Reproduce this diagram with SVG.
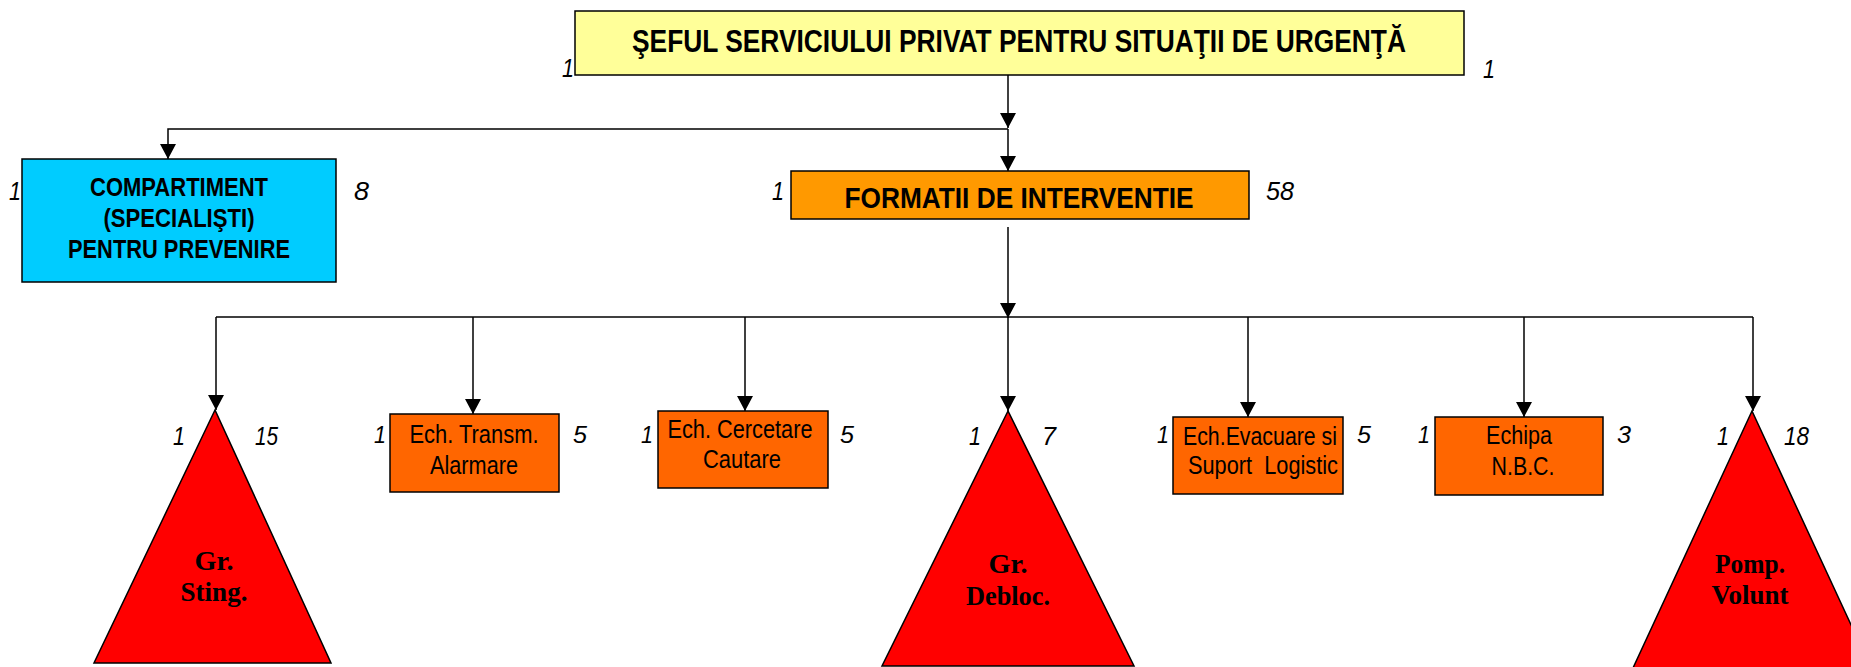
<svg xmlns="http://www.w3.org/2000/svg" width="1851" height="667" viewBox="0 0 1851 667">
<style>
.box{stroke:#000;stroke-width:1.5}
.tri{fill:#FF0000;stroke:#000;stroke-width:1.5}
.big{font-family:"Liberation Sans",Arial,sans-serif;font-weight:bold;fill:#000;text-anchor:middle}
.sm{font-family:"Liberation Sans",Arial,sans-serif;font-size:25px;fill:#000;text-anchor:middle}
.tt{font-family:"Liberation Serif","Times New Roman",serif;font-weight:bold;font-size:28px;fill:#000;text-anchor:middle}
.lb{font-family:"Liberation Sans",Arial,sans-serif;font-style:italic;font-size:25px;fill:#000}
.ls{font-family:"Liberation Sans",Arial,sans-serif;font-style:italic;font-size:23px;fill:#000}
.ln{fill:none;stroke:#000;stroke-width:1.5}
</style>
<defs>
<marker id="ah" markerUnits="userSpaceOnUse" viewBox="0 0 15 16" refX="15" refY="8" markerWidth="15" markerHeight="16" orient="auto">
<path d="M0,0 L15,8 L0,16 z" fill="#000"/>
</marker>
</defs>
<rect width="1851" height="667" fill="#fff"/>
<g id="connectors">
<line class="ln" x1="1008" y1="75" x2="1008" y2="128" marker-end="url(#ah)"/>
<line class="ln" x1="1008" y1="129" x2="1008" y2="171" marker-end="url(#ah)"/>
<polyline class="ln" points="1008,129 168,129 168,159" marker-end="url(#ah)"/>
<line class="ln" x1="1008" y1="227" x2="1008" y2="318" marker-end="url(#ah)"/>
<line class="ln" x1="216" y1="317" x2="1753" y2="317"/>
<line class="ln" x1="216" y1="317" x2="216" y2="410" marker-end="url(#ah)"/>
<line class="ln" x1="473" y1="317" x2="473" y2="414" marker-end="url(#ah)"/>
<line class="ln" x1="745" y1="317" x2="745" y2="411" marker-end="url(#ah)"/>
<line class="ln" x1="1008" y1="317" x2="1008" y2="411" marker-end="url(#ah)"/>
<line class="ln" x1="1248" y1="317" x2="1248" y2="417" marker-end="url(#ah)"/>
<line class="ln" x1="1524" y1="317" x2="1524" y2="417" marker-end="url(#ah)"/>
<line class="ln" x1="1753" y1="317" x2="1753" y2="411" marker-end="url(#ah)"/>
</g>
<g id="sef">
<text class="lb" x="562" y="77" textLength="12" lengthAdjust="spacingAndGlyphs">1</text>
<rect class="box" x="575" y="11" width="889" height="64" fill="#FFFF99"/>
<text class="big" x="1019" y="52" font-size="31" textLength="774" lengthAdjust="spacingAndGlyphs">ŞEFUL SERVICIULUI PRIVAT PENTRU SITUAŢII DE URGENŢĂ</text>
<text class="lb" x="1483" y="78" textLength="12" lengthAdjust="spacingAndGlyphs">1</text>
</g>
<g id="compartiment">
<text class="lb" x="9" y="200" textLength="12" lengthAdjust="spacingAndGlyphs">1</text>
<rect class="box" x="22" y="159" width="314" height="123" fill="#00CCFF"/>
<text class="big" x="179" y="196" font-size="25" textLength="178" lengthAdjust="spacingAndGlyphs">COMPARTIMENT</text>
<text class="big" x="179" y="227" font-size="25" textLength="151" lengthAdjust="spacingAndGlyphs">(SPECIALIŞTI)</text>
<text class="big" x="179" y="258" font-size="25" textLength="222" lengthAdjust="spacingAndGlyphs">PENTRU PREVENIRE</text>
<text class="lb" x="354" y="200" textLength="15" lengthAdjust="spacingAndGlyphs">8</text>
</g>
<g id="formatii">
<text class="lb" x="772" y="200" textLength="12" lengthAdjust="spacingAndGlyphs">1</text>
<rect class="box" x="791" y="171" width="458" height="48" fill="#FF9900"/>
<text class="big" x="1019" y="208" font-size="29" textLength="349" lengthAdjust="spacingAndGlyphs">FORMATII DE INTERVENTIE</text>
<text class="lb" x="1266" y="200" textLength="28" lengthAdjust="spacingAndGlyphs">58</text>
</g>
<g id="gr-sting">
<polygon class="tri" points="215,410 94,663 331,663"/>
<text class="tt" x="214" y="570" textLength="39" lengthAdjust="spacingAndGlyphs">Gr.</text>
<text class="tt" x="214" y="601" textLength="67" lengthAdjust="spacingAndGlyphs">Sting.</text>
<text class="lb" x="173" y="445" textLength="12" lengthAdjust="spacingAndGlyphs">1</text>
<text class="lb" x="255" y="445" textLength="23" lengthAdjust="spacingAndGlyphs">15</text>
</g>
<g id="ech-transm">
<text class="ls" x="374" y="443" textLength="12" lengthAdjust="spacingAndGlyphs">1</text>
<rect class="box" x="390" y="414" width="169" height="78" fill="#FF6600"/>
<text class="sm" x="474" y="443" textLength="129" lengthAdjust="spacingAndGlyphs">Ech. Transm.</text>
<text class="sm" x="474" y="474" textLength="88" lengthAdjust="spacingAndGlyphs">Alarmare</text>
<text class="ls" x="573" y="443" textLength="14" lengthAdjust="spacingAndGlyphs">5</text>
</g>
<g id="ech-cercetare">
<text class="ls" x="641" y="443" textLength="12" lengthAdjust="spacingAndGlyphs">1</text>
<rect class="box" x="658" y="411" width="170" height="77" fill="#FF6600"/>
<text class="sm" x="740" y="438" textLength="145" lengthAdjust="spacingAndGlyphs">Ech. Cercetare</text>
<text class="sm" x="742" y="468" textLength="78" lengthAdjust="spacingAndGlyphs">Cautare</text>
<text class="ls" x="840" y="443" textLength="14" lengthAdjust="spacingAndGlyphs">5</text>
</g>
<g id="gr-debloc">
<polygon class="tri" points="1008,411 882,666 1134,666"/>
<text class="tt" x="1008" y="573" textLength="39" lengthAdjust="spacingAndGlyphs">Gr.</text>
<text class="tt" x="1008" y="605" textLength="84" lengthAdjust="spacingAndGlyphs">Debloc.</text>
<text class="lb" x="969" y="445" textLength="12" lengthAdjust="spacingAndGlyphs">1</text>
<text class="lb" x="1042" y="445" textLength="14" lengthAdjust="spacingAndGlyphs">7</text>
</g>
<g id="ech-evacuare">
<text class="ls" x="1157" y="443" textLength="12" lengthAdjust="spacingAndGlyphs">1</text>
<rect class="box" x="1173" y="417" width="170" height="77" fill="#FF6600"/>
<text class="sm" x="1260" y="445" textLength="154" lengthAdjust="spacingAndGlyphs">Ech.Evacuare si</text>
<text class="sm" x="1263" y="474" textLength="150" lengthAdjust="spacingAndGlyphs" xml:space="preserve">Suport  Logistic</text>
<text class="ls" x="1357" y="443" textLength="14" lengthAdjust="spacingAndGlyphs">5</text>
</g>
<g id="echipa-nbc">
<text class="ls" x="1418" y="443" textLength="12" lengthAdjust="spacingAndGlyphs">1</text>
<rect class="box" x="1435" y="417" width="168" height="78" fill="#FF6600"/>
<text class="sm" x="1519" y="444" textLength="66" lengthAdjust="spacingAndGlyphs">Echipa</text>
<text class="sm" x="1523" y="475" textLength="63" lengthAdjust="spacingAndGlyphs">N.B.C.</text>
<text class="ls" x="1617" y="443" textLength="14" lengthAdjust="spacingAndGlyphs">3</text>
</g>
<g id="pomp-volunt">
<polygon class="tri" points="1752,411 1633,668 1871,668"/>
<text class="tt" x="1750" y="573" textLength="70" lengthAdjust="spacingAndGlyphs">Pomp.</text>
<text class="tt" x="1750" y="604" textLength="77" lengthAdjust="spacingAndGlyphs">Volunt</text>
<text class="lb" x="1717" y="445" textLength="12" lengthAdjust="spacingAndGlyphs">1</text>
<text class="lb" x="1784" y="445" textLength="25" lengthAdjust="spacingAndGlyphs">18</text>
</g>
</svg>
